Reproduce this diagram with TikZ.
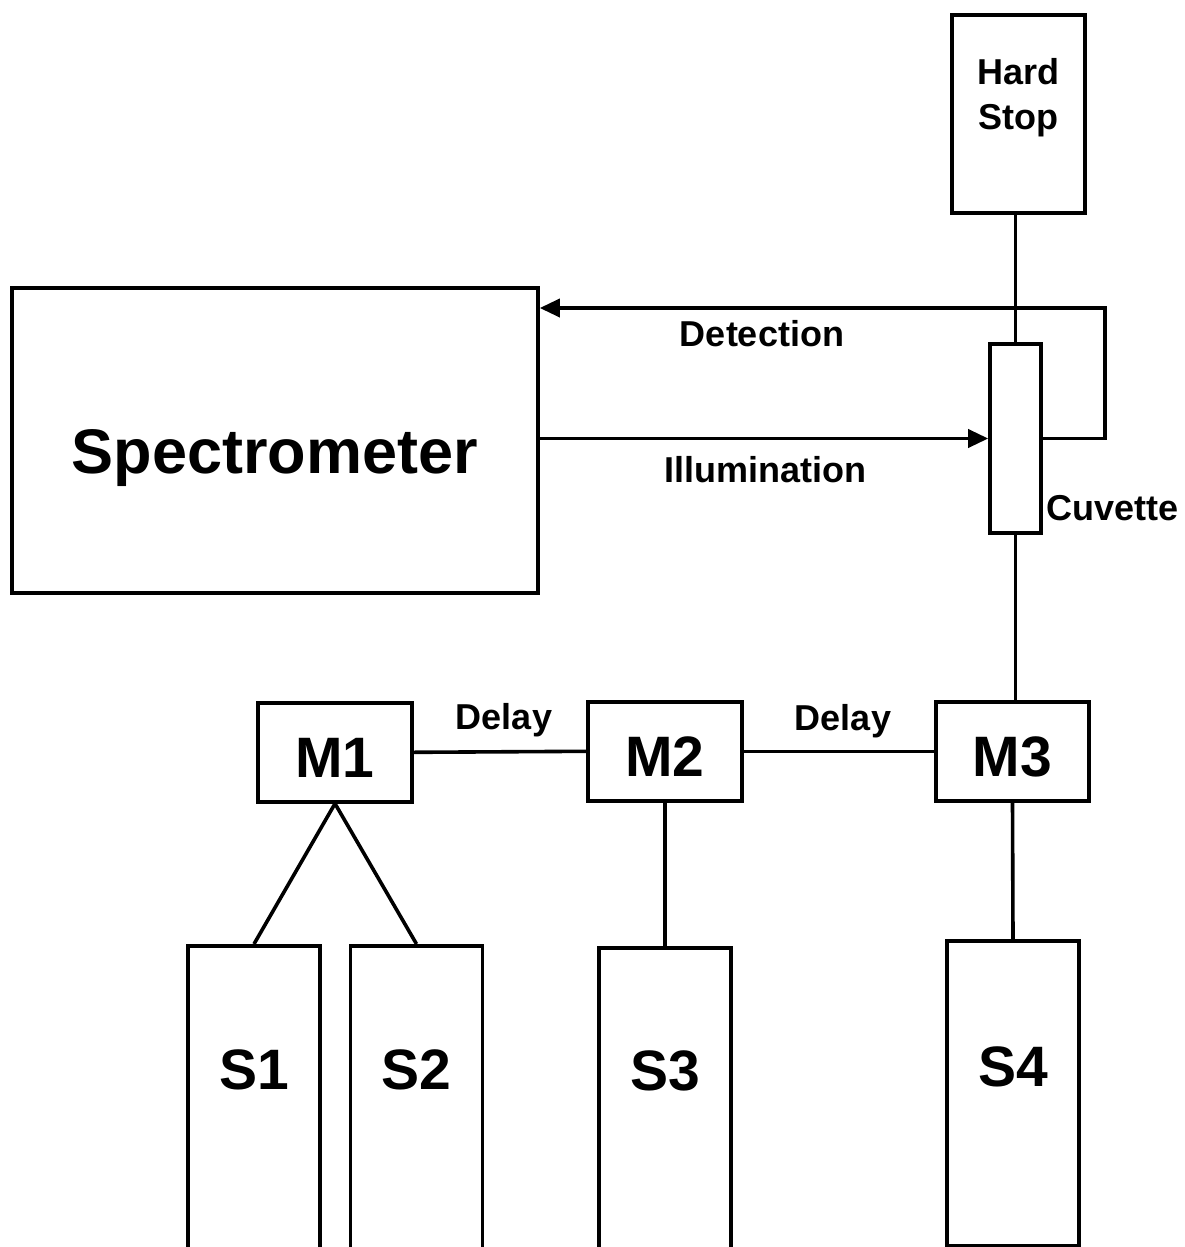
\documentclass[tikz,border=0pt]{standalone}
\usepackage{fontspec}
\setmainfont{Liberation Sans}
\usetikzlibrary{arrows.meta, positioning}

\begin{document}
\begin{tikzpicture}[
  x=0.5pt, y=-0.5pt,
  box/.style={rectangle, draw=black, line width=1.8pt, fill=white,
              font=\bfseries\fontsize{28.5}{30}\selectfont, inner sep=0pt},
  mix/.style={box, anchor=north, minimum width=77pt, text height=37.5pt, text depth=12pt},
  smp/.style={box, anchor=north, minimum width=66pt},
  lbl/.style={font=\bfseries\fontsize{18}{21.5}\selectfont, inner sep=0pt},
  conn/.style={line width=1.8pt},
  arr/.style={conn, -{Triangle[length=10pt, width=9pt]}},
]
  \useasboundingbox (0,0) rectangle (1184,1247);

  % boxes
  \node[box, anchor=north, minimum width=263pt, text height=93pt, text depth=59.5pt,
        font=\bfseries\fontsize{31.5}{34}\selectfont] (spec) at (275,286) {Spectrometer};
  \node[box, anchor=north, minimum width=66.5pt, align=center,
        font=\bfseries\fontsize{18}{22.5}\selectfont,
        text height=57.5pt, text depth=41.5pt] (hs) at (1018.5,13) {Hard\\Stop};
  \node[box, minimum width=25.5pt, minimum height=94.5pt] (cuv) at (1015.5,438.5) {};
  \node[lbl, anchor=west] (cuvlbl) at (1046,508) {Cuvette};

  \node[mix] (m1) at (335,701) {M1};
  \node[mix] (m2) at (665,700) {M2};
  \node[mix, minimum width=76.5pt] (m3) at (1012.5,700) {M3};

  \node[smp, text height=72pt, text depth=86pt] (s1) at (254,944) {S1};
  \node[smp, text height=72pt, text depth=86pt] (s2) at (416.5,944) {S2};
  \node[smp, text height=71.25pt, text depth=86pt] (s3) at (665,946) {S3};
  \node[smp, text height=73pt, text depth=79.5pt] (s4) at (1013,939) {S4};

  % optical paths
  \draw[arr] (spec.east |- cuv.west) -- (cuv.west);
  \draw[arr] (cuv.east) -- ++(62,0) |- ([yshift=-11pt]spec.north east);
  \node[lbl] (det) at (762,334) {Detection};
  \node[lbl] (ill) at (765,470) {Illumination};

  % fluid line
  \draw[conn] (cuv.north) -- (cuv.north |- hs.south);
  \draw[conn] (cuv.south) -- (cuv.south |- m3.north);
  \draw[conn] (m1.east) -- (m2.west);
  \draw[conn] (m2.east) -- (m3.west);
  \node[lbl] (dl1) at (504,720) {Delay};
  \node[lbl] (dl2) at (843,721) {Delay};

  \draw[conn] (m1.south) -- (s1.north);
  \draw[conn] (m1.south) -- (s2.north);
  \draw[conn] (m2.south) -- (s3.north);
  \draw[conn] (m3.south) -- (s4.north);
\end{tikzpicture}
\end{document}
